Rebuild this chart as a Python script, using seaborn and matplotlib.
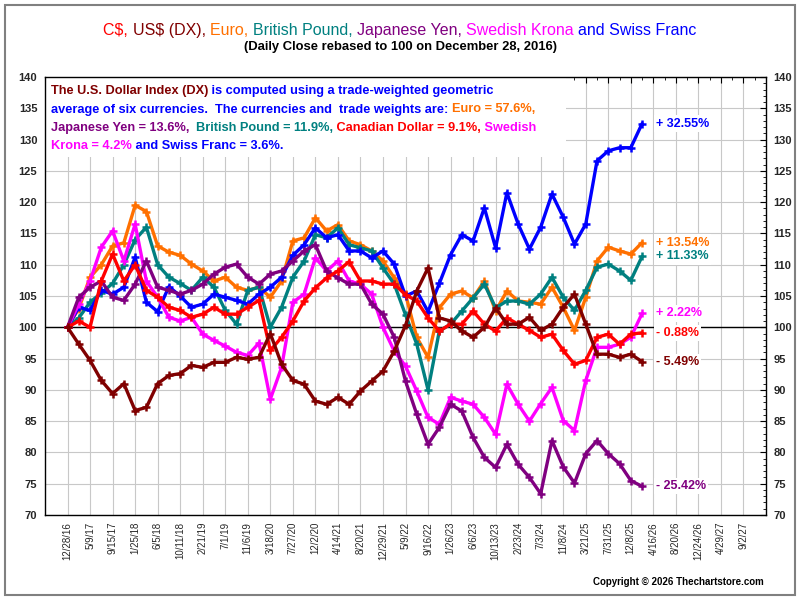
import numpy as np
import pandas as pd
import matplotlib
matplotlib.use("Agg")
import matplotlib.pyplot as plt
from matplotlib.patches import Rectangle
from matplotlib.ticker import MultipleLocator, FixedLocator
import seaborn as sns

# samples every 45 trading days, starting 12/28/16 (day 0)
sample_days = list(range(0, 2296, 45))

tick_days = list(range(0, 2701, 90))
tick_labels = ["12/28/16", "5/9/17", "9/15/17", "1/25/18", "6/5/18", "10/11/18",
               "2/21/19", "7/1/19", "11/6/19", "3/18/20", "7/27/20", "12/2/20",
               "4/14/21", "8/20/21", "12/29/21", "5/9/22", "9/16/22", "1/26/23",
               "6/6/23", "10/13/23", "2/23/24", "7/3/24", "11/8/24", "3/21/25",
               "7/31/25", "12/8/25", "4/16/26", "8/20/26", "12/24/26", "4/29/27",
               "9/2/27"]

# rebased daily close (100 = 12/28/16)
euro = [100, 103, 108, 110, 113, 113.5, 119.5, 118.5, 113, 112,
        111.5, 110.1, 109, 107.4, 108, 106.4, 105.9, 106.4, 104.8, 107.4,
        113.8, 114.3, 117.5, 115.4, 116.4, 113.8, 113.2, 112.2, 110.6, 107.9,
        105.3, 98.4, 95.2, 103.1, 105.3, 105.8, 104.7, 107.4, 102.6, 105.8,
        104.2, 104, 103.7, 106.4, 103.2, 99.5, 104.8, 110.6, 112.8, 112.2,
        111.7, 113.54]
gbp = [100, 101.5, 104, 105.5, 107, 110, 114, 116, 110, 108,
       107, 105.9, 108, 106.4, 102.7, 100.5, 105.9, 106.4, 100, 103.2,
       108, 110.6, 114.8, 114.3, 115.9, 113.2, 112.7, 112.2, 109.5, 106.9,
       102, 97.3, 90, 99.4, 100.5, 102.6, 104.7, 106.9, 103.1, 104.2,
       104.2, 103.7, 105.3, 108, 104.8, 102.7, 105.9, 109.6, 110.1, 109,
       107.5, 111.33]
chf = [100, 103.2, 102.7, 105.9, 105.3, 106.4, 111.2, 104, 102.5, 106.5,
       105, 103.2, 103.7, 105.3, 104.8, 104.3, 103.7, 105.3, 106.4, 108,
       111.5, 113.2, 115.9, 114.3, 114.8, 112.2, 112.2, 111.1, 112.2, 110.1,
       105, 105.8, 102.5, 107, 111.6, 114.8, 113.8, 119.1, 112.7, 121.5,
       116.5, 112.5, 116, 121.3, 117.6, 113.3, 116.5, 126.6, 128.2, 128.7,
       128.7, 132.55]
sek = [100, 103.7, 107.4, 112.8, 115.4, 110.6, 116.5, 107.4, 104.8, 101.6,
       101, 101.6, 98.9, 97.9, 97, 96, 95.5, 97.5, 88.5, 93.6,
       104, 105.3, 111.1, 109, 110.6, 107.4, 106.9, 105.3, 100, 96.2,
       93.8, 89.8, 85.6, 84.5, 88.8, 88.2, 87.7, 85.6, 82.9, 90.9,
       87.7, 85, 87.8, 90.4, 85.1, 83.5, 91.5, 96.8, 96.8, 97.3,
       98.4, 102.22]
jpy = [100, 104.8, 106.4, 107.4, 104.8, 104.3, 106.9, 110.6, 106.4, 105.9,
       105.3, 105.9, 106.9, 108.5, 109.6, 110.1, 108, 106.9, 108.5, 109,
       110.6, 112.2, 113.2, 109, 107.9, 106.9, 106.9, 103.7, 102.1, 98.4,
       91.4, 86.1, 81.3, 84, 87.7, 86.6, 82.4, 79.2, 77.6, 81.3,
       78.1, 76, 73.4, 81.9, 77.7, 75.1, 79.8, 81.9, 79.8, 78.2,
       75.5, 74.58]
cad = [100, 101, 100, 107.4, 111.7, 107.4, 110, 105.9, 104.8, 103.2,
       102.7, 101.6, 102.1, 103.2, 102.1, 102.1, 103.2, 104.3, 96.3, 98.4,
       101, 104.2, 106.3, 107.9, 109, 110.5, 107.4, 107.4, 106.9, 106.9,
       105.2, 104.2, 101.5, 99.4, 100.5, 100.5, 102.6, 100.5, 99.4, 101.5,
       100.5, 99.5, 98.4, 98.9, 96.3, 94.1, 94.7, 98.4, 98.9, 97.3,
       98.9, 99.12]
dx = [100, 97.3, 94.7, 91.5, 89.4, 91, 86.7, 87.2, 91, 92.3,
      92.6, 93.9, 93.6, 94.4, 94.4, 95.2, 94.9, 95.2, 99, 94.1,
      91.5, 90.9, 88.2, 87.7, 88.8, 87.7, 89.8, 91.4, 93, 96.2,
      100.3, 105.8, 109.5, 101.5, 101, 99.4, 98.4, 100, 103.1, 100.5,
      100.5, 101.6, 99.5, 100.5, 103.2, 105.3, 100.5, 95.7, 95.7, 95.2,
      95.7, 94.51]

RED, MAROON, ORANGE = "#FF0000", "#800000", "#FF7000"
TEAL, PURPLE, MAGENTA, BLUE = "#008080", "#800080", "#FF00FF", "#0000FF"

# draw order (bottom to top)
series = [
    ("Euro", euro, ORANGE),
    ("British Pound", gbp, TEAL),
    ("Swiss Franc", chf, BLUE),
    ("Swedish Krona", sek, MAGENTA),
    ("Japanese Yen", jpy, PURPLE),
    ("C$", cad, RED),
    ("US$ (DX)", dx, MAROON),
]

sns.set_theme(style="white")
plt.rcParams["font.family"] = ["Liberation Sans", "DejaVu Sans"]

fig = plt.figure(figsize=(8, 6), dpi=100)
ax = fig.add_axes([45 / 800, 85 / 600, 721 / 800, 438 / 600])

for name, vals, col in series:
    df = pd.DataFrame({"day": sample_days, "value": vals})
    sns.lineplot(data=df, x="day", y="value", color=col, lw=2.4, marker="+",
                 markersize=6, markeredgewidth=1.8, markeredgecolor=col, ax=ax,
                 zorder=3)

ax.axhline(100, color="black", lw=1, zorder=2.5)

ax.set_xlim(-90, 2790)
ax.set_ylim(70, 140)
ax.xaxis.set_major_locator(FixedLocator(tick_days))
ax.set_xticklabels(tick_labels, rotation=90, fontsize=7)
ax.xaxis.set_minor_locator(MultipleLocator(45))
ax.yaxis.set_major_locator(MultipleLocator(5))
ax.yaxis.set_minor_locator(MultipleLocator(1))
ax.tick_params(axis="both", which="major", direction="in", length=4, width=0.8,
               top=True, right=True, labelright=True, color="black")
ax.tick_params(axis="both", which="minor", direction="in", length=2, width=0.6,
               top=True, right=True, color="black")
ax.tick_params(axis="y", labelsize=8, pad=5.5)
ax.tick_params(axis="x", pad=5)
for lbl in ax.get_yticklabels():
    lbl.set_fontweight("bold")
ax.grid(True, which="major", color="#C8C8C8", lw=0.8, zorder=0)
ax.set_axisbelow(True)
ax.set_xlabel("")
ax.set_ylabel("")
for sp in ax.spines.values():
    sp.set_color("black")
    sp.set_linewidth(1.0)

# white panel behind the note
ax.add_patch(Rectangle((0, 0.817), 0.7226, 0.183, transform=ax.transAxes,
                       facecolor="white", edgecolor="none", zorder=1))

# end-of-series percentage labels
end_labels = [("+ 32.55%", chf, BLUE), ("+ 13.54%", euro, ORANGE),
              ("+ 11.33%", gbp, TEAL), ("+ 2.22%", sek, MAGENTA),
              ("- 0.88%", cad, RED), ("- 5.49%", dx, MAROON),
              ("- 25.42%", jpy, PURPLE)]
for txt, vals, col in end_labels:
    ax.text(sample_days[-1] + 55, vals[-1], txt, color=col, fontsize=9,
            fontweight="bold", va="center", ha="left", zorder=4,
            bbox=dict(facecolor="white", edgecolor="none", pad=1.5))


def color_line(x, y, parts, size, weight):
    first = prev = None
    for s, c in parts:
        if prev is None:
            t = fig.text(x, y, s, color=c, fontsize=size, fontweight=weight,
                         va="bottom", ha="left")
            first = t
        else:
            t = ax.annotate(s, xy=(1, 0), xycoords=prev, color=c, fontsize=size,
                            fontweight=weight, va="bottom", ha="left",
                            annotation_clip=False)
        prev = t
    return first, prev


# title in the series colours
t0, t1 = color_line(0.1, 0.937, [("C$, ", RED), ("US$ (DX), ", MAROON),
                                 ("Euro, ", ORANGE), ("British Pound, ", TEAL),
                                 ("Japanese Yen, ", PURPLE),
                                 ("Swedish Krona ", MAGENTA),
                                 ("and Swiss Franc", BLUE)], 11.5, "normal")
fig.text(0.5, 0.922, "(Daily Close rebased to 100 on December 28, 2016)",
         ha="center", va="center", fontsize=9.4, fontweight="bold", color="black")

note = [
    [("The U.S. Dollar Index (DX)", MAROON),
     (" is computed using a trade-weighted geometric", BLUE)],
    [("average of six currencies.  The currencies and  trade weights are: ", BLUE),
     ("Euro = 57.6%,", ORANGE)],
    [("Japanese Yen = 13.6%,", PURPLE), ("  British Pound = 11.9%,", TEAL),
     (" Canadian Dollar = 9.1%,", RED), (" Swedish", MAGENTA)],
    [("Krona = 4.2%", MAGENTA), (" and Swiss Franc = 3.6%.", BLUE)],
]
for k, parts in enumerate(note):
    color_line(51 / 800, 0.838 - k * 0.0305, parts, 9.2, "bold")

fig.text(764 / 800, 0.03, "Copyright \u00a9 2026 Thechartstore.com", ha="right",
         va="center", fontsize=7, fontweight="bold", color="black")

# centre the coloured title
fig.canvas.draw()
r = fig.canvas.get_renderer()
w = t1.get_window_extent(r).x1 - t0.get_window_extent(r).x0
t0.set_x(0.5 - w / 2 / fig.bbox.width)

fig.add_artist(Rectangle((0.006, 0.008), 0.988, 0.984, transform=fig.transFigure,
                         fill=False, edgecolor="#808080", lw=1.5))

fig.savefig("out.png", dpi=100)
